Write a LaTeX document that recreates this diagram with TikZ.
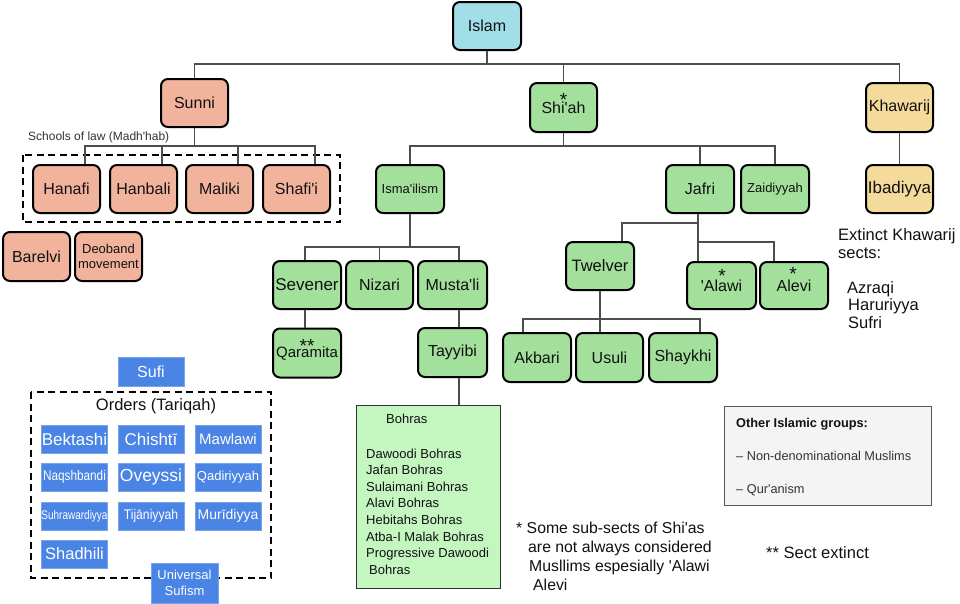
\documentclass[tikz,border=0pt]{standalone}
\usepackage{fontspec}
\setmainfont{Liberation Sans}
\usepackage{graphicx}
\newcommand\fsz[2]{\fontsize{#1pt}{#2pt}\selectfont}
\newcommand\q{\textquotesingle}
\definecolor{islamc}{HTML}{A2DEE8}
\definecolor{sunnic}{HTML}{F2B39D}
\definecolor{shiac}{HTML}{A3E09B}
\definecolor{khawc}{HTML}{F4DB9C}
\definecolor{sufic}{HTML}{4A84E4}
\definecolor{linec}{HTML}{4D4D4D}
\definecolor{bohrac}{HTML}{C4F7C0}
\definecolor{otherc}{HTML}{F4F4F4}
\definecolor{txtc}{HTML}{111111}
\begin{document}
\begin{tikzpicture}[x=1pt,y=-1pt,
  box/.style={draw=black, line width=2pt, rounded corners=7pt, inner sep=0pt, align=center,
    minimum width=67pt, minimum height=48pt, font=\fsz{16}{18}, text=txtc},
  islambox/.style={box, fill=islamc},
  sunnibox/.style={box, fill=sunnic},
  shiabox/.style={box, fill=shiac},
  khawbox/.style={box, fill=khawc},
  sufibox/.style={fill=sufic, draw=sufic!75!white, line width=0.6pt, text=white, inner sep=0pt,
    minimum width=66pt, minimum height=28pt, font=\fsz{16}{18}, align=center},
  link/.style={draw=linec, line width=1.3pt},
  dashbox/.style={draw=black, line width=1.8pt, dash pattern=on 7pt off 4.5pt},
  starnode/.style={font=\fsz{19}{19}, inner sep=0pt, anchor=base, text=txtc},
  plain/.style={inner sep=0pt, anchor=base west, align=left, text=txtc}]
\fill[white] (0,0) rectangle (960,603);
\useasboundingbox (0,0) rectangle (960,603);

% dashed groupings
\draw[dashbox] (23,155) rectangle (340,222);
\draw[dashbox] (31,392) rectangle (271,578);

% top level
\node[islambox, minimum width=68pt] (islam) at (487,26) {Islam};
\node[sunnibox] (sunni) at (194.5,103) {Sunni};
\node[shiabox, minimum height=49pt] (shiah) at (563.5,107.5) {Shi\q ah};
\node[starnode] (shiahstar) at (563.5,106) {*};
\node[khawbox, minimum height=49pt] (khawarij) at (899.5,107.5) {Khawarij};
\node[khawbox, font=\fsz{17}{18}] (ibadiyya) at (899.5,189) {Ibadiyya};

% Sunni schools
\node[plain, font=\fsz{12}{14}, text=black!80] (schools) at (28,140.5) {Schools of law (Madh\q hab)};
\node[sunnibox] (hanafi) at (66.5,189) {Hanafi};
\node[sunnibox] (hanbali) at (143.5,189) {Hanbali};
\node[sunnibox] (maliki) at (219.5,189) {Maliki};
\node[sunnibox] (shafii) at (296.5,189) {Shafi\q i};
\node[sunnibox, minimum height=49pt] (barelvi) at (36.5,256.5) {Barelvi};
\node[sunnibox, minimum height=49pt, font=\fsz{13}{15.5}] (deoband) at (108.5,256.5) {Deoband\\movement};

% Shi'ah branches
\node[shiabox, minimum width=68pt, font=\fsz{13}{15}] (ismailism) at (410,189) {Isma\q ilism};
\node[shiabox, minimum width=68pt] (jafri) at (700,189) {Jafri};
\node[shiabox, minimum width=68pt, font=\fsz{13}{15}] (zaidiyyah) at (775,189) {Zaidiyyah};

\node[shiabox, minimum width=68pt, font=\fsz{17}{18}] (sevener) at (307,285) {Sevener};
\node[shiabox] (nizari) at (379.5,285) {Nizari};
\node[shiabox, minimum width=69pt] (mustali) at (452.5,285) {Musta\q li};
\node[shiabox, minimum width=68pt, minimum height=49pt, font=\fsz{15}{17}] (qaramita) at (307,353) {Qaramita};
\node[starnode] (qaramitastar) at (307,352) {**};
\node[shiabox, minimum width=69pt, minimum height=49pt] (tayyibi) at (452.5,352.5) {Tayyibi};

\node[shiabox, minimum width=68pt, font=\fsz{16.5}{18}] (twelver) at (600,266) {Twelver};
\node[shiabox, minimum width=69pt, minimum height=47pt] (alawi) at (721.5,285.5) {\q Alawi};
\node[starnode] (alawistar) at (722,282) {*};
\node[shiabox, minimum width=68pt, minimum height=47pt] (alevi) at (794,285.5) {Alevi};
\node[starnode] (alevistar) at (793,280.5) {*};
\node[shiabox, minimum width=68pt, minimum height=49pt] (akbari) at (537,357.5) {Akbari};
\node[shiabox, minimum height=49pt] (usuli) at (609.5,357.5) {Usuli};
\node[shiabox, minimum width=68pt, minimum height=49pt] (shaykhi) at (683,357.5) {Shaykhi};

% Bohras
\node[draw=black!80, line width=1pt, fill=bohrac, minimum width=144pt, minimum height=183pt,
  inner sep=0pt, anchor=north west] (bohras) at (356,405) {};
\node[plain, font=\fsz{13}{16.6}] (bohrashead) at (386,423) {Bohras};
\node[plain, font=\fsz{13}{16.6}] (bohraslist) at (366,574.2) {Dawoodi Bohras\\Jafan Bohras\\Sulaimani Bohras\\Alavi Bohras\\Hebitahs Bohras\\Atba-I Malak Bohras\\Progressive Dawoodi\\\hspace*{3pt}Bohras};

% Khawarij note
\node[plain, font=\fsz{16.5}{18}] (extinct) at (838,258) {Extinct Khawarij\\sects:};
\node[plain, font=\fsz{16.5}{17.5}] (khawsects) at (847,328) {Azraqi\\\hspace*{1pt}Haruriyya\\\hspace*{1pt}Sufri};

% Sufi
\node[sufibox, minimum height=29pt] (sufi) at (151,371.5) {Sufi};
\node[inner sep=0pt, anchor=base, font=\fsz{16.5}{18}, text=txtc] (orders) at (156,410) {Orders (Tariqah)};
\node[sufibox, font=\fsz{17}{18}] (bektashi) at (74.5,439) {Bektashi};
\node[sufibox, font=\fsz{17}{18}] (chishti) at (151,439) {Chishtī};
\node[sufibox, font=\fsz{15}{18}] (mawlawi) at (228,439) {Mawlawi};
\node[sufibox, font=\fsz{14}{18}] (naqshbandi) at (74.5,477) {\scalebox{0.84}[1]{Naqshbandi}};
\node[sufibox, font=\fsz{17.5}{18}] (oveyssi) at (151,477) {Oveyssi};
\node[sufibox, font=\fsz{13}{18}] (qadiriyyah) at (228,477) {Qadiriyyah};
\node[sufibox, font=\fsz{12.5}{18}] (suhrawardiyya) at (74.5,516) {\scalebox{0.8}[1]{Suhrawardiyya}};
\node[sufibox, font=\fsz{14}{18}] (tijaniyyah) at (151,516) {\scalebox{0.87}[1]{Tijāniyyah}};
\node[sufibox, font=\fsz{14}{18}] (muridiyya) at (228,516) {Murīdiyya};
\node[sufibox, font=\fsz{16.5}{18}] (shadhili) at (74.5,554) {Shadhili};
\node[sufibox, minimum width=67pt, minimum height=40pt, font=\fsz{13}{16}] (universal) at (184.5,583) {Universal\\Sufism};

% Other groups
\node[draw=black!65, line width=1pt, fill=otherc, minimum width=207pt, minimum height=99pt,
  inner sep=0pt, anchor=north west] (other) at (724,406) {};
\node[plain, font=\bfseries\fsz{12.75}{15}] (otherhead) at (736,427) {Other Islamic groups:};
\node[plain, font=\fsz{12.75}{15}, text=black!80] (othera) at (736,460) {– Non-denominational Muslims};
\node[plain, font=\fsz{12.75}{15}, text=black!80] (otherb) at (736,493) {– Qur\q anism};

% footnotes
\node[plain, font=\fsz{15.8}{19.3}] (note1) at (516,590.9) {* Some sub-sects of Shi\q as\\\hspace*{12pt}are not always considered\\\hspace*{13pt}Musllims espesially \q Alawi\\\hspace*{17pt}Alevi};
\node[plain, font=\fsz{16.5}{18}] (note2) at (766,558.5) {** Sect extinct};

% ---------- connectors ----------
\coordinate (bA) at (0,64);
\coordinate (bS) at (0,146);
\coordinate (bI) at (0,247);
\coordinate (bJ1) at (0,223);
\coordinate (bJ2) at (0,242);
\coordinate (bT) at (0,319);

\draw[link] (islam.south) -- (islam.south |- bA);
\draw[link] (sunni.north) -- (sunni.north |- bA) -- (khawarij.north |- bA) -- (khawarij.north);
\draw[link] (shiah.north) -- (shiah.north |- bA);
\draw[link] (khawarij.south) -- (ibadiyya.north);

\coordinate (dHa) at ([xshift=-16pt]hanafi.north east);
\coordinate (dHb) at ([xshift=-16pt]hanbali.north east);
\coordinate (dMa) at ([xshift=-16pt]maliki.north east);
\coordinate (dSh) at ([xshift=-16pt]shafii.north east);
\draw[link] (sunni.south) -- (sunni.south |- bS);
\draw[link] (dHa) -- (dHa |- bS) -- (dSh |- bS) -- (dSh);
\draw[link] (dHb) -- (dHb |- bS);
\draw[link] (dMa) -- (dMa |- bS);

\draw[link] (shiah.south) -- (shiah.south |- bS);
\draw[link] (ismailism.north) -- (ismailism.north |- bS) -- (zaidiyyah.north |- bS) -- (zaidiyyah.north);
\draw[link] (jafri.north) -- (jafri.north |- bS);

\coordinate (dSe) at ([xshift=-2pt]sevener.north);
\coordinate (dSe2) at ([xshift=-2pt]sevener.south);
\coordinate (dMu) at ([xshift=6.5pt]mustali.north);
\coordinate (dMu2) at ([xshift=6.5pt]mustali.south);
\coordinate (dTa) at ([xshift=6.5pt]tayyibi.south);
\draw[link] (ismailism.south) -- (ismailism.south |- bI);
\draw[link] (dSe) -- (dSe |- bI) -- (dMu |- bI) -- (dMu);
\draw[link] (nizari.north) -- (nizari.north |- bI);
\draw[link] (dSe2) -- (dSe2 |- qaramita.north);
\draw[link] (dMu2) -- (dMu2 |- tayyibi.north);
\draw[link] (dTa) -- (dTa |- bohras.north);

\coordinate (dJa) at ([xshift=-2pt]jafri.south);
\coordinate (dTw) at ([xshift=22pt]twelver.north);
\coordinate (dAv) at ([xshift=-20pt]alevi.north);
\draw[link] (dJa) -- (dJa |- alawi.north);
\draw[link] (dJa |- bJ1) -- (dTw |- bJ1) -- (dTw);
\draw[link] (dJa |- bJ2) -- (dAv |- bJ2) -- (dAv);

\coordinate (dAk) at ([xshift=-14pt]akbari.north);
\coordinate (dSk) at ([xshift=17pt]shaykhi.north);
\coordinate (dUs) at (twelver.south |- usuli.north);
\draw[link] (twelver.south) -- (twelver.south |- bT);
\draw[link] (dAk) -- (dAk |- bT) -- (dSk |- bT) -- (dSk);
\draw[link] (dUs) -- (dUs |- bT);
\end{tikzpicture}
\end{document}
